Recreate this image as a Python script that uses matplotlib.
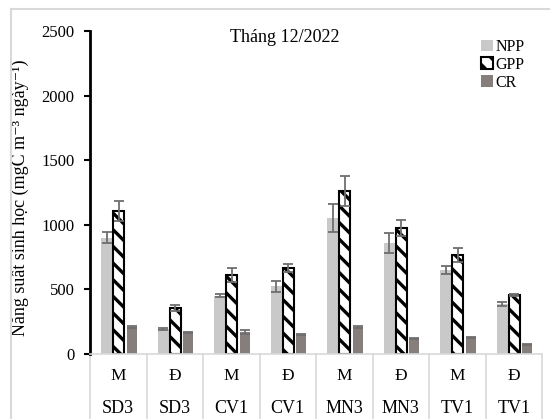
import numpy as np
import matplotlib
matplotlib.use('Agg')
import matplotlib.pyplot as plt
from matplotlib.lines import Line2D

plt.rcParams['font.family'] = ['Liberation Serif', 'DejaVu Serif']
plt.rcParams['hatch.linewidth'] = 2.4

# data
seasons = ['M', 'Đ', 'M', 'Đ', 'M', 'Đ', 'M', 'Đ']
stations = ['SD3', 'SD3', 'CV1', 'CV1', 'MN3', 'MN3', 'TV1', 'TV1']
npp = [900, 193, 451, 523, 1052, 859, 650, 387]
npp_err = [43, 6, 10, 45, 106, 80, 32, 12]
gpp = [1104, 356, 611, 663, 1258, 975, 768, 454]
gpp_err = [77, 26, 55, 31, 116, 60, 54, 8]
cr = [209, 167, 170, 149, 206, 118, 124, 72]
cr_err = [5, 4, 12, 3, 8, 3, 4, 3]

x = np.arange(len(seasons))

fig = plt.figure(figsize=(5.5, 4.19), dpi=100)
ax = fig.add_axes([90 / 550, 1 - 354 / 419, 452 / 550, 323 / 419])

err_kw = dict(ecolor='#6e6e6e', elinewidth=1.3, capsize=3.5, capthick=1.3)
ax.bar(x - 0.2, npp, width=0.205, color='#c9c9c9', yerr=npp_err,
       error_kw=err_kw, label='NPP', zorder=2)
ax.bar(x + 0.01, gpp, width=0.19, color='white', edgecolor='black',
       linewidth=1.5, hatch='\\\\', yerr=gpp_err, error_kw=err_kw,
       label='GPP', zorder=2)
ax.bar(x + 0.24, cr, width=0.18, color='#857e7b', yerr=cr_err,
       error_kw=err_kw, label='CR', zorder=2)

ax.set_xlim(-0.5, 7.5)
ax.set_ylim(0, 2500)
ax.set_yticks([0, 500, 1000, 1500, 2000, 2500])
ax.tick_params(axis='y', direction='out', length=4, width=1.5, pad=7,
               labelsize=12, color='black')
ax.set_xticks([])
for s in ['top', 'right']:
    ax.spines[s].set_visible(False)
ax.spines['left'].set_linewidth(2)
ax.spines['bottom'].set_color('#d9d9d9')
ax.spines['bottom'].set_linewidth(1.2)

# two-level category axis
trans = ax.get_xaxis_transform()
for i in range(len(seasons)):
    ax.text(x[i], -0.068, seasons[i], transform=trans, ha='center',
            va='center', fontsize=12.5)
    ax.text(x[i], -0.168, stations[i], transform=trans, ha='center',
            va='center', fontsize=13)
for b in np.arange(-0.5, 8, 1):
    ax.plot([b, b], [0, -0.2], transform=trans, color='#d9d9d9', lw=1.2,
            clip_on=False)

ax.set_ylabel('Năng suất sinh học (mgC m⁻³ ngày⁻¹)', fontsize=13)
ax.yaxis.set_label_coords(-0.135, 0.485)
ax.text(0.431, 0.98, 'Tháng 12/2022', transform=ax.transAxes, ha='center',
        va='center', fontsize=13)

ax.legend(loc='upper left', bbox_to_anchor=(473 / 550, 1 - 31 / 419),
          bbox_transform=fig.transFigure, frameon=False, fontsize=11.5,
          handlelength=0.75, handleheight=0.75, handletextpad=0.15,
          labelspacing=0.12, borderpad=0)

# chart area border (top and left only visible)
fig.add_artist(Line2D([11 / 550, 1], [1 - 9 / 419, 1 - 9 / 419],
                      transform=fig.transFigure, color='#d9d9d9', lw=1.5))
fig.add_artist(Line2D([11 / 550, 11 / 550], [0, 1 - 9 / 419],
                      transform=fig.transFigure, color='#d9d9d9', lw=1.5))

fig.savefig('out.png', dpi=100)
